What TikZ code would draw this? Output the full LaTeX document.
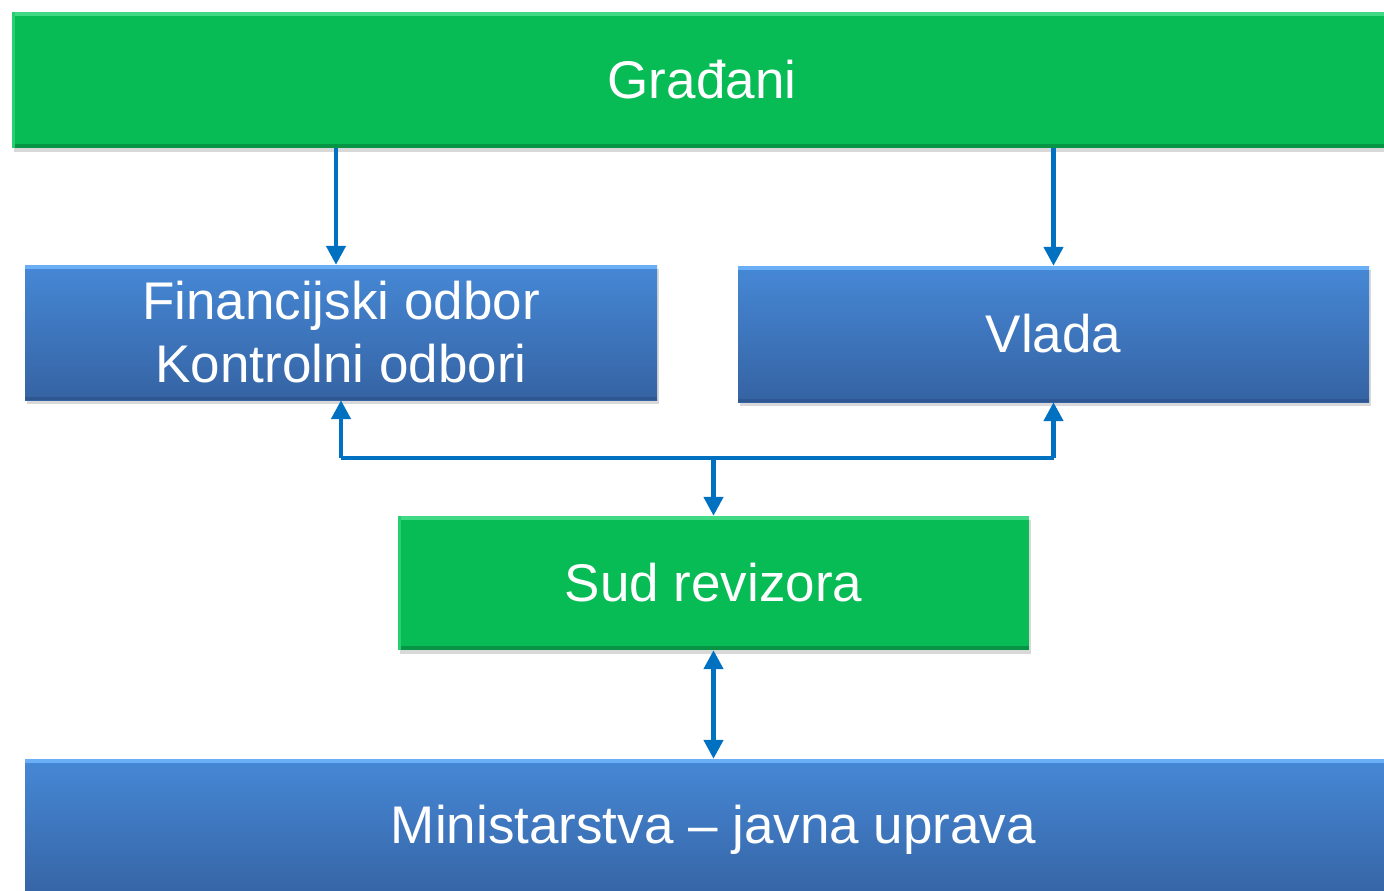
\documentclass[tikz,border=0pt]{standalone}
\usepackage{fontspec}
\setmainfont{Liberation Sans}
\usetikzlibrary{arrows.meta,shadows,calc}
\definecolor{gmain}{HTML}{07BB55}
\definecolor{glight}{HTML}{3FDA83}
\definecolor{gdark}{HTML}{079445}
\definecolor{btop}{HTML}{4688D6}
\definecolor{bbot}{HTML}{3563A3}
\definecolor{blight}{HTML}{6AAEF5}
\definecolor{bdark}{HTML}{2E5690}
\definecolor{arrblue}{HTML}{0070C0}
\tikzset{
  box/.style={rectangle, inner sep=0pt, text=white, align=center,
    font=\fontsize{53}{63}\selectfont,
    drop shadow={shadow xshift=2pt, shadow yshift=-4pt, opacity=0.3}},
  greenbox/.style={box, fill=gmain,
    path picture={
      \fill[glight] (path picture bounding box.north west) rectangle ([yshift=-4pt]path picture bounding box.north east);
      \fill[gdark] (path picture bounding box.south west) rectangle ([yshift=4pt]path picture bounding box.south east);
      \fill[glight!60!gmain] (path picture bounding box.north west) rectangle ([xshift=3pt]path picture bounding box.south west);
    }},
  bluebox/.style={box, top color=btop, bottom color=bbot,
    path picture={
      \fill[blight] (path picture bounding box.north west) rectangle ([yshift=-4pt]path picture bounding box.north east);
      \fill[bdark] (path picture bounding box.south west) rectangle ([yshift=3pt]path picture bounding box.south east);
    }},
  arr/.style={draw=arrblue, line width=4.5pt, -{Triangle[width=19pt,length=19pt]}},
  dblarr/.style={draw=arrblue, line width=4.5pt, {Triangle[width=19pt,length=19pt]}-{Triangle[width=19pt,length=19pt]}},
  seg/.style={draw=arrblue, line width=4.5pt, line join=round}
}
\begin{document}
\begin{tikzpicture}[x=1pt,y=-1pt]
\useasboundingbox[fill=white] (0,0) rectangle (1384,891);
\node[greenbox, minimum width=1380pt, minimum height=136pt] (gr) at (702,80) {Građani};
\node[bluebox, minimum width=632pt, minimum height=135pt] (fin) at (341,332.5) {Financijski odbor\\Kontrolni odbori};
\node[bluebox, minimum width=631pt, minimum height=136pt] (vl) at (1053.5,334) {Vlada};
\node[greenbox, minimum width=631pt, minimum height=134pt] (sud) at (713.5,583) {Sud revizora};
\node[bluebox, minimum width=1377pt, minimum height=142pt] (min) at (713.5,830) {Ministarstva – javna uprava};
\coordinate (j) at ($(sud.north)+(0,-58)$);
\draw[arr] ([xshift=-5pt]fin.north |- gr.south) -- ([xshift=-5pt]fin.north);
\draw[arr] (vl.north |- gr.south) -- (vl.north);
\draw[seg] (fin.south |- j) -- (vl.south |- j);
\draw[arr] (fin.south |- j) -- (fin.south);
\draw[arr] (vl.south |- j) -- (vl.south);
\draw[arr] (j) -- (sud.north);
\draw[dblarr] (sud.south) -- (min.north);
\end{tikzpicture}
\end{document}
